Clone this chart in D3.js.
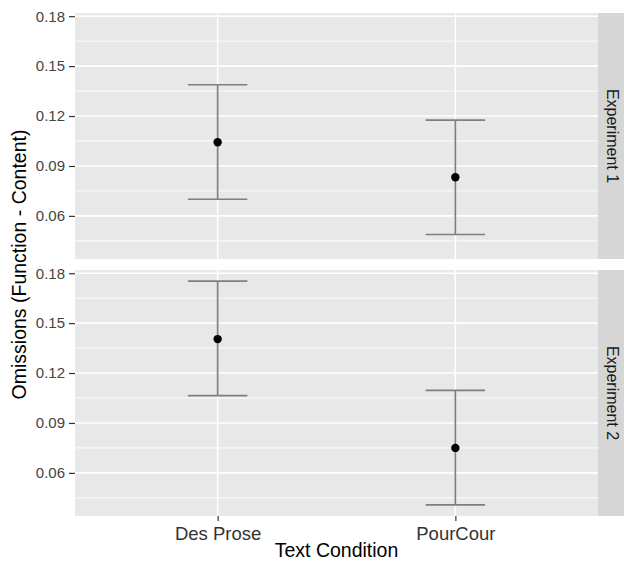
<!DOCTYPE html>
<html>
<head>
<meta charset="utf-8">
<script src="https://cdn.jsdelivr.net/npm/d3@7"></script>
<style>
  html, body { margin: 0; padding: 0; background: #fff; }
  svg { display: block; font-family: "Liberation Sans", Arial, Helvetica, sans-serif; }
</style>
</head>
<body>
<svg id="chart" width="624" height="563"></svg>
<script>
// Text conditions on the x axis, one facet per experiment
const categories = ["Des Prose", "PourCour"];
const experiments = ["Experiment 1", "Experiment 2"];

// Mean omission difference and its interval bounds, per experiment
const meansExp1 = [0.1042, 0.0832];
const lowerExp1 = [0.0700, 0.0488];
const upperExp1 = [0.1388, 0.1176];

const meansExp2 = [0.1404, 0.0750];
const lowerExp2 = [0.1064, 0.0408];
const upperExp2 = [0.1752, 0.1096];

const yTicks = [0.06, 0.09, 0.12, 0.15, 0.18];
const yMinor = [0.045, 0.075, 0.105, 0.135, 0.165];

const panels = [
  { label: experiments[0], mean: meansExp1, lo: lowerExp1, hi: upperExp1 },
  { label: experiments[1], mean: meansExp2, lo: lowerExp2, hi: upperExp2 }
];

const svg = d3.select("#chart");

const panelLeft = 75, panelRight = 598;
const panelH = 246;
const panelTops = [13, 270];
const stripW = 28;

// shared y range across facets, padded by 5% like the default continuous expansion
const allLo = d3.min([...lowerExp1, ...lowerExp2]);
const allHi = d3.max([...upperExp1, ...upperExp2]);
const pad = (allHi - allLo) * 0.05;

const x = d3.scalePoint().domain(categories).range([panelLeft, panelRight]).padding(0.6);
const capHalf = x.step() * 0.25 / 2;

panels.forEach((p, i) => {
  const top = panelTops[i];
  const y = d3.scaleLinear().domain([allLo - pad, allHi + pad]).range([top + panelH, top]);
  const g = svg.append("g");

  // panel background
  g.append("rect")
    .attr("x", panelLeft).attr("y", top)
    .attr("width", panelRight - panelLeft).attr("height", panelH)
    .attr("fill", "#E8E8E8");

  // minor grid
  g.selectAll(".minor").data(yMinor.filter(v => y(v) > top && y(v) < top + panelH)).join("line")
    .attr("x1", panelLeft).attr("x2", panelRight)
    .attr("y1", d => y(d)).attr("y2", d => y(d))
    .attr("stroke", "#fff").attr("stroke-width", 0.9);

  // major grid
  g.selectAll(".major").data(yTicks).join("line")
    .attr("x1", panelLeft).attr("x2", panelRight)
    .attr("y1", d => y(d)).attr("y2", d => y(d))
    .attr("stroke", "#fff").attr("stroke-width", 1.6);

  g.selectAll(".vmajor").data(categories).join("line")
    .attr("x1", d => x(d)).attr("x2", d => x(d))
    .attr("y1", top).attr("y2", top + panelH)
    .attr("stroke", "#fff").attr("stroke-width", 1.6);

  // strip on the right
  g.append("rect")
    .attr("x", panelRight).attr("y", top)
    .attr("width", stripW).attr("height", panelH)
    .attr("fill", "#D6D6D6");
  g.append("text")
    .attr("transform", `translate(${panelRight + 9},${top + panelH / 2}) rotate(90)`)
    .attr("text-anchor", "middle")
    .attr("fill", "#1A1A1A")
    .attr("font-size", 16)
    .text(p.label);

  // y axis
  const yAxis = d3.axisLeft(y).tickValues(yTicks).tickSize(6).tickPadding(4)
    .tickFormat(d3.format(".2f"));
  const ya = g.append("g").attr("transform", `translate(${panelLeft},0)`).call(yAxis);
  ya.select(".domain").remove();
  ya.selectAll(".tick line").attr("stroke", "#333").attr("stroke-width", 1.2);
  ya.selectAll(".tick text").attr("fill", "#444").attr("font-size", 15)
    .attr("font-family", "Liberation Sans, Arial, sans-serif");

  // error bars
  const idx = d3.range(categories.length);
  const eb = g.selectAll(".eb").data(idx).join("g").attr("stroke", "#7F7F7F").attr("stroke-width", 1.7);
  eb.append("line")
    .attr("x1", d => x(categories[d])).attr("x2", d => x(categories[d]))
    .attr("y1", d => y(p.lo[d])).attr("y2", d => y(p.hi[d]));
  eb.append("line")
    .attr("x1", d => x(categories[d]) - capHalf).attr("x2", d => x(categories[d]) + capHalf)
    .attr("y1", d => y(p.hi[d])).attr("y2", d => y(p.hi[d]));
  eb.append("line")
    .attr("x1", d => x(categories[d]) - capHalf).attr("x2", d => x(categories[d]) + capHalf)
    .attr("y1", d => y(p.lo[d])).attr("y2", d => y(p.lo[d]));

  // mean points
  g.selectAll(".pt").data(idx).join("circle")
    .attr("cx", d => x(categories[d])).attr("cy", d => y(p.mean[d]))
    .attr("r", 4.2).attr("fill", "#000");

  // x axis under the bottom facet only
  if (i === panels.length - 1) {
    const xAxis = d3.axisBottom(x).tickSize(5).tickPadding(6);
    const xa = g.append("g").attr("transform", `translate(0,${top + panelH})`).call(xAxis);
    xa.select(".domain").remove();
    xa.selectAll(".tick line").attr("stroke", "#333").attr("stroke-width", 1.2);
    xa.selectAll(".tick text").attr("fill", "#333").attr("font-size", 18.5)
      .attr("font-family", "Liberation Sans, Arial, sans-serif");
  }
});

// axis titles
svg.append("text")
  .attr("x", (panelLeft + panelRight) / 2).attr("y", 557)
  .attr("text-anchor", "middle").attr("font-size", 19.5).attr("fill", "#000")
  .text("Text Condition");

svg.append("text")
  .attr("transform", `translate(25.5,${(panelTops[0] + panelTops[1] + panelH) / 2}) rotate(-90)`)
  .attr("text-anchor", "middle").attr("font-size", 19.5).attr("fill", "#000")
  .text("Omissions (Function - Content)");
</script>
</body>
</html>
